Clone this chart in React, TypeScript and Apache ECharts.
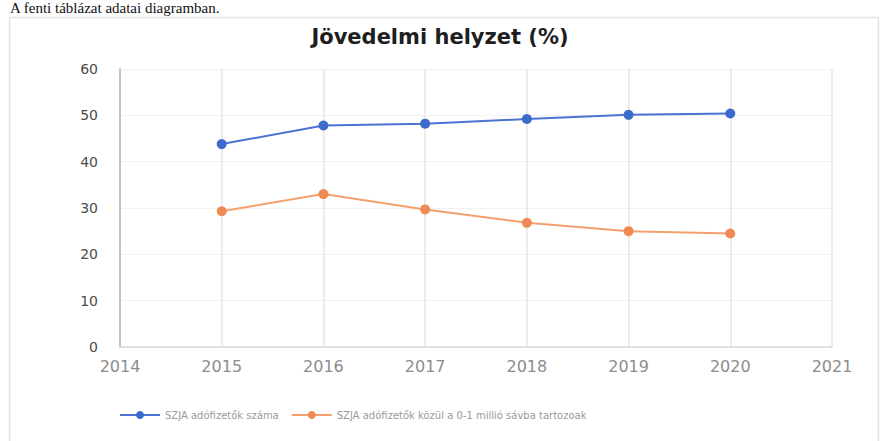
import React, { useEffect, useRef } from "react";
import * as echarts from "echarts";

const years = [2015, 2016, 2017, 2018, 2019, 2020];
const szjaCount = [43.8, 47.8, 48.2, 49.2, 50.1, 50.4];
const band01 = [29.3, 33.0, 29.7, 26.8, 25.0, 24.5];
const seriesNames = [
  "SZJA adófizetők száma",
  "SZJA adófizetők közül a 0-1 millió sávba tartozoak",
];
const titleText = "Jövedelmi helyzet (%)";
const captionText = "A fenti táblázat adatai diagramban.";

export default function App() {
  const ref = useRef<HTMLDivElement>(null);
  useEffect(() => {
    if (!ref.current) return;
    const chart = echarts.init(ref.current, undefined, { renderer: "svg" });
    const font = "DejaVu Sans";
    chart.setOption({
      animation: false,
      backgroundColor: "#fff",
      title: {
        text: titleText,
        left: "center",
        top: 21,
        textStyle: { fontFamily: font, fontSize: 21, fontWeight: "bold", color: "#1e1e1e" },
      },
      graphic: [
        {
          type: "rect",
          shape: { x: 9.5, y: 17.5, width: 869, height: 440 },
          style: { fill: "none", stroke: "#e4e4e4", lineWidth: 1.5 },
          silent: true,
        },
        {
          type: "text",
          left: 10,
          top: 0,
          style: {
            text: captionText,
            fontFamily: "Liberation Serif",
            fontSize: 15,
            fill: "#111",
          },
        },
      ],
      grid: { left: 120, right: 48, top: 69, bottom: 94 },
      legend: {
        left: 114,
        top: 405,
        itemWidth: 40,
        itemHeight: 10,
        itemGap: 12,
        textStyle: { fontFamily: font, fontSize: 10, color: "#9a9a9a" },
        data: seriesNames,
      },
      xAxis: {
        type: "value",
        min: 2014,
        max: 2021,
        interval: 1,
        axisLine: { show: true, lineStyle: { color: "#e0e0e0", width: 2 } },
        axisTick: { show: false },
        splitLine: { show: true, lineStyle: { color: "#e6e6e6", width: 1.5 } },
        axisLabel: {
          fontFamily: font,
          fontSize: 16,
          color: "#8c8c8c",
          margin: 11,
          formatter: (v: number) => String(v),
        },
      },
      yAxis: {
        type: "value",
        min: 0,
        max: 60,
        interval: 10,
        axisLine: { show: true, lineStyle: { color: "#c4c4c4", width: 2 } },
        axisTick: { show: false },
        splitLine: { show: true, lineStyle: { color: "#f2f2f2" } },
        axisLabel: {
          fontFamily: font,
          fontSize: 14,
          color: "#4a4a4a",
          margin: 22,
        },
      },
      series: [
        {
          name: seriesNames[0],
          type: "line",
          data: years.map((y, i) => [y, szjaCount[i]]),
          symbol: "circle",
          symbolSize: 10,
          lineStyle: { color: "#4a74d0", width: 2 },
          itemStyle: { color: "#3d6bcc" },
        },
        {
          name: seriesNames[1],
          type: "line",
          data: years.map((y, i) => [y, band01[i]]),
          symbol: "circle",
          symbolSize: 10,
          lineStyle: { color: "#f3a06e", width: 2 },
          itemStyle: { color: "#f08a55" },
        },
      ],
    });
    return () => chart.dispose();
  }, []);
  return (
    <div
      ref={ref}
      style={{ position: "fixed", left: 0, top: 0, width: 880, height: 441 }}
    />
  );
}
